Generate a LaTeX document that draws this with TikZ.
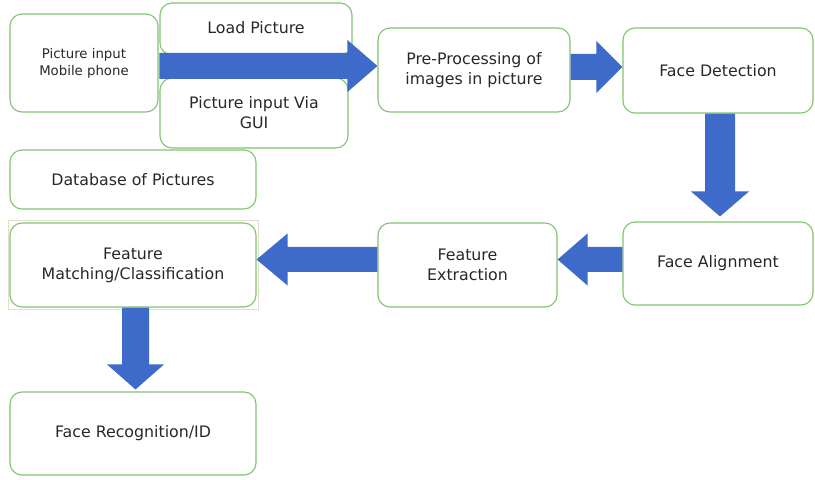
\documentclass[tikz,border=0pt]{standalone}
\usepackage{fontspec}
\setmainfont{DejaVu Sans}
\usetikzlibrary{calc}
\definecolor{boxgreen}{RGB}{128,196,112}
\definecolor{arrowblue}{RGB}{62,106,201}
\definecolor{textgray}{RGB}{40,40,40}
\definecolor{selframe}{RGB}{226,222,200}
\newcommand\blockarrow[6]{% #1 id, #2 tail, #3 tip, #4 shaft half width, #5 head half width, #6 head length
  \coordinate (#1B) at ($(#3)!#6!(#2)$);
  \fill[arrowblue] ($(#2)!#4!90:(#3)$) -- ($(#1B)!#4!-90:(#2)$) -- ($(#1B)!#5!-90:(#2)$) -- (#3)
    -- ($(#1B)!#5!90:(#2)$) -- ($(#1B)!#4!90:(#2)$) -- ($(#2)!#4!-90:(#3)$) -- cycle;
}
\tikzset{
  flowbox/.style={draw=boxgreen, line width=1.1bp, rounded corners=12bp, fill=white,
    align=center, text=textgray, inner sep=0pt,
    font=\fontsize{15.8bp}{20bp}\selectfont},
}
\begin{document}
\begin{tikzpicture}[x=1bp,y=-1bp]
\useasboundingbox[fill=white] (0,0) rectangle (815,480);
% faint selection frame
\draw[selframe, line width=0.8bp] (8,220) rectangle (258,309);
% boxes
\node[flowbox, minimum width=148bp, minimum height=98bp, font=\fontsize{13.3bp}{17bp}\selectfont] (mob) at (84,63) {Picture input\\Mobile phone};
\node[flowbox, minimum width=192bp, minimum height=52bp] (load) at (256,29) {\raisebox{2bp}{Load Picture}};
\node[flowbox, minimum width=188bp, minimum height=70bp] (gui) at (254,113) {Picture input Via\\GUI};
\node[flowbox, minimum width=246bp, minimum height=59bp] (db) at (133,179.5) {Database of Pictures};
\node[flowbox, minimum width=192bp, minimum height=84bp] (pre) at (474,70) {Pre-Processing of\\images in picture};
\node[flowbox, minimum width=190bp, minimum height=85bp] (det) at (718,70.5) {Face Detection};
\node[flowbox, minimum width=190bp, minimum height=83bp] (ali) at (718,263.5) {Face Alignment};
\node[flowbox, minimum width=179bp, minimum height=84bp] (ext) at (467.5,265) {Feature\\Extraction};
\node[flowbox, minimum width=246bp, minimum height=84bp] (mat) at (133,265) {Feature\\Matching/Classification};
\node[flowbox, minimum width=246bp, minimum height=83bp] (rec) at (133,433.5) {Face Recognition/ID};
% connector end points (yshift is in canvas direction: positive = up)
\coordinate (a1tip) at ([yshift=4bp]pre.west);
\coordinate (a1tail) at (load.west |- a1tip);
\coordinate (a2tail) at ([yshift=3bp]pre.east);
\coordinate (a2tip) at (det.west |- a2tail);
\coordinate (a3tail) at ([xshift=2bp]det.south);
\coordinate (a3tip) at ([yshift=5bp]a3tail |- ali.north);
\coordinate (a4tail) at ([yshift=4bp]ali.west);
\coordinate (a4tip) at (ext.east |- a4tail);
\coordinate (a5tail) at ([yshift=5.5bp]ext.west);
\coordinate (a5tip) at (mat.east |- a5tail);
\coordinate (a6tail) at ([xshift=2.5bp]mat.south);
\coordinate (a6tip) at ([yshift=2bp]a6tail |- rec.north);
% block arrows
\blockarrow{a}{a1tail}{a1tip}{13bp}{26bp}{30bp}
\blockarrow{b}{a2tail}{a2tip}{13bp}{26bp}{26bp}
\blockarrow{c}{a3tail}{a3tip}{15bp}{29bp}{25bp}
\blockarrow{d}{a4tail}{a4tip}{12.5bp}{26bp}{30bp}
\blockarrow{e}{a5tail}{a5tip}{12.5bp}{26bp}{31bp}
\blockarrow{f}{a6tail}{a6tip}{13.5bp}{28.5bp}{25bp}
\end{tikzpicture}
\end{document}
